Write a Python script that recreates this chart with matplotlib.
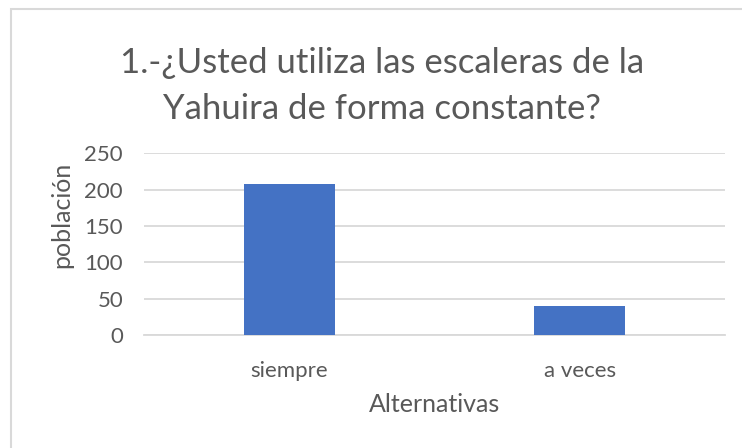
import matplotlib.pyplot as plt
from matplotlib.patches import Rectangle

# data
categories = ['siempre', 'a veces']
values = [208, 40]
yticks = [0, 50, 100, 150, 200, 250]

title = '1.-¿Usted utiliza las escaleras de la\nYahuira de forma constante?'
xlabel = 'Alternativas'
ylabel = 'población'

plt.rcParams['font.family'] = ['Lato', 'DejaVu Sans']
grey = '#595959'

fig = plt.figure(figsize=(7.42, 4.48), dpi=100)
ax = fig.add_axes([0.194, 0.252, 0.783, 0.406])

x = range(len(categories))
ax.bar(x, values, width=0.313, color='#4472C4', zorder=3)

ax.set_xlim(-0.5, len(categories) - 0.5)
ax.set_ylim(0, 250)
ax.set_yticks(yticks)
ax.set_xticks(list(x))
ax.set_xticklabels(categories)

ax.grid(axis='y', color='#d9d9d9', linewidth=1.3, zorder=0)
for s in ['top', 'right', 'left']:
    ax.spines[s].set_visible(False)
ax.spines['bottom'].set_color('#d9d9d9')
ax.spines['bottom'].set_linewidth(1.3)
ax.tick_params(length=0, labelsize=16, colors=grey)
ax.tick_params(axis='x', pad=19)
ax.tick_params(axis='y', pad=15)

ax.set_xlabel(xlabel, fontsize=18, color=grey, labelpad=8)
ax.set_ylabel(ylabel, fontsize=18, color=grey)
# excel puts the value-axis title a bit above the middle
ax.yaxis.set_label_coords(-0.122, 0.66)

fig.text(0.515, 0.808, title, ha='center', va='center', fontsize=25,
         color=grey, linespacing=1.55)

# chart frame (only left and top edges visible in the crop)
fig.patches.append(Rectangle((11 / 742, -0.1), 1.2, 1.1 - 9 / 448,
                             transform=fig.transFigure, fill=False,
                             edgecolor='#d9d9d9', linewidth=1.5))

fig.savefig('out.png', dpi=100)
